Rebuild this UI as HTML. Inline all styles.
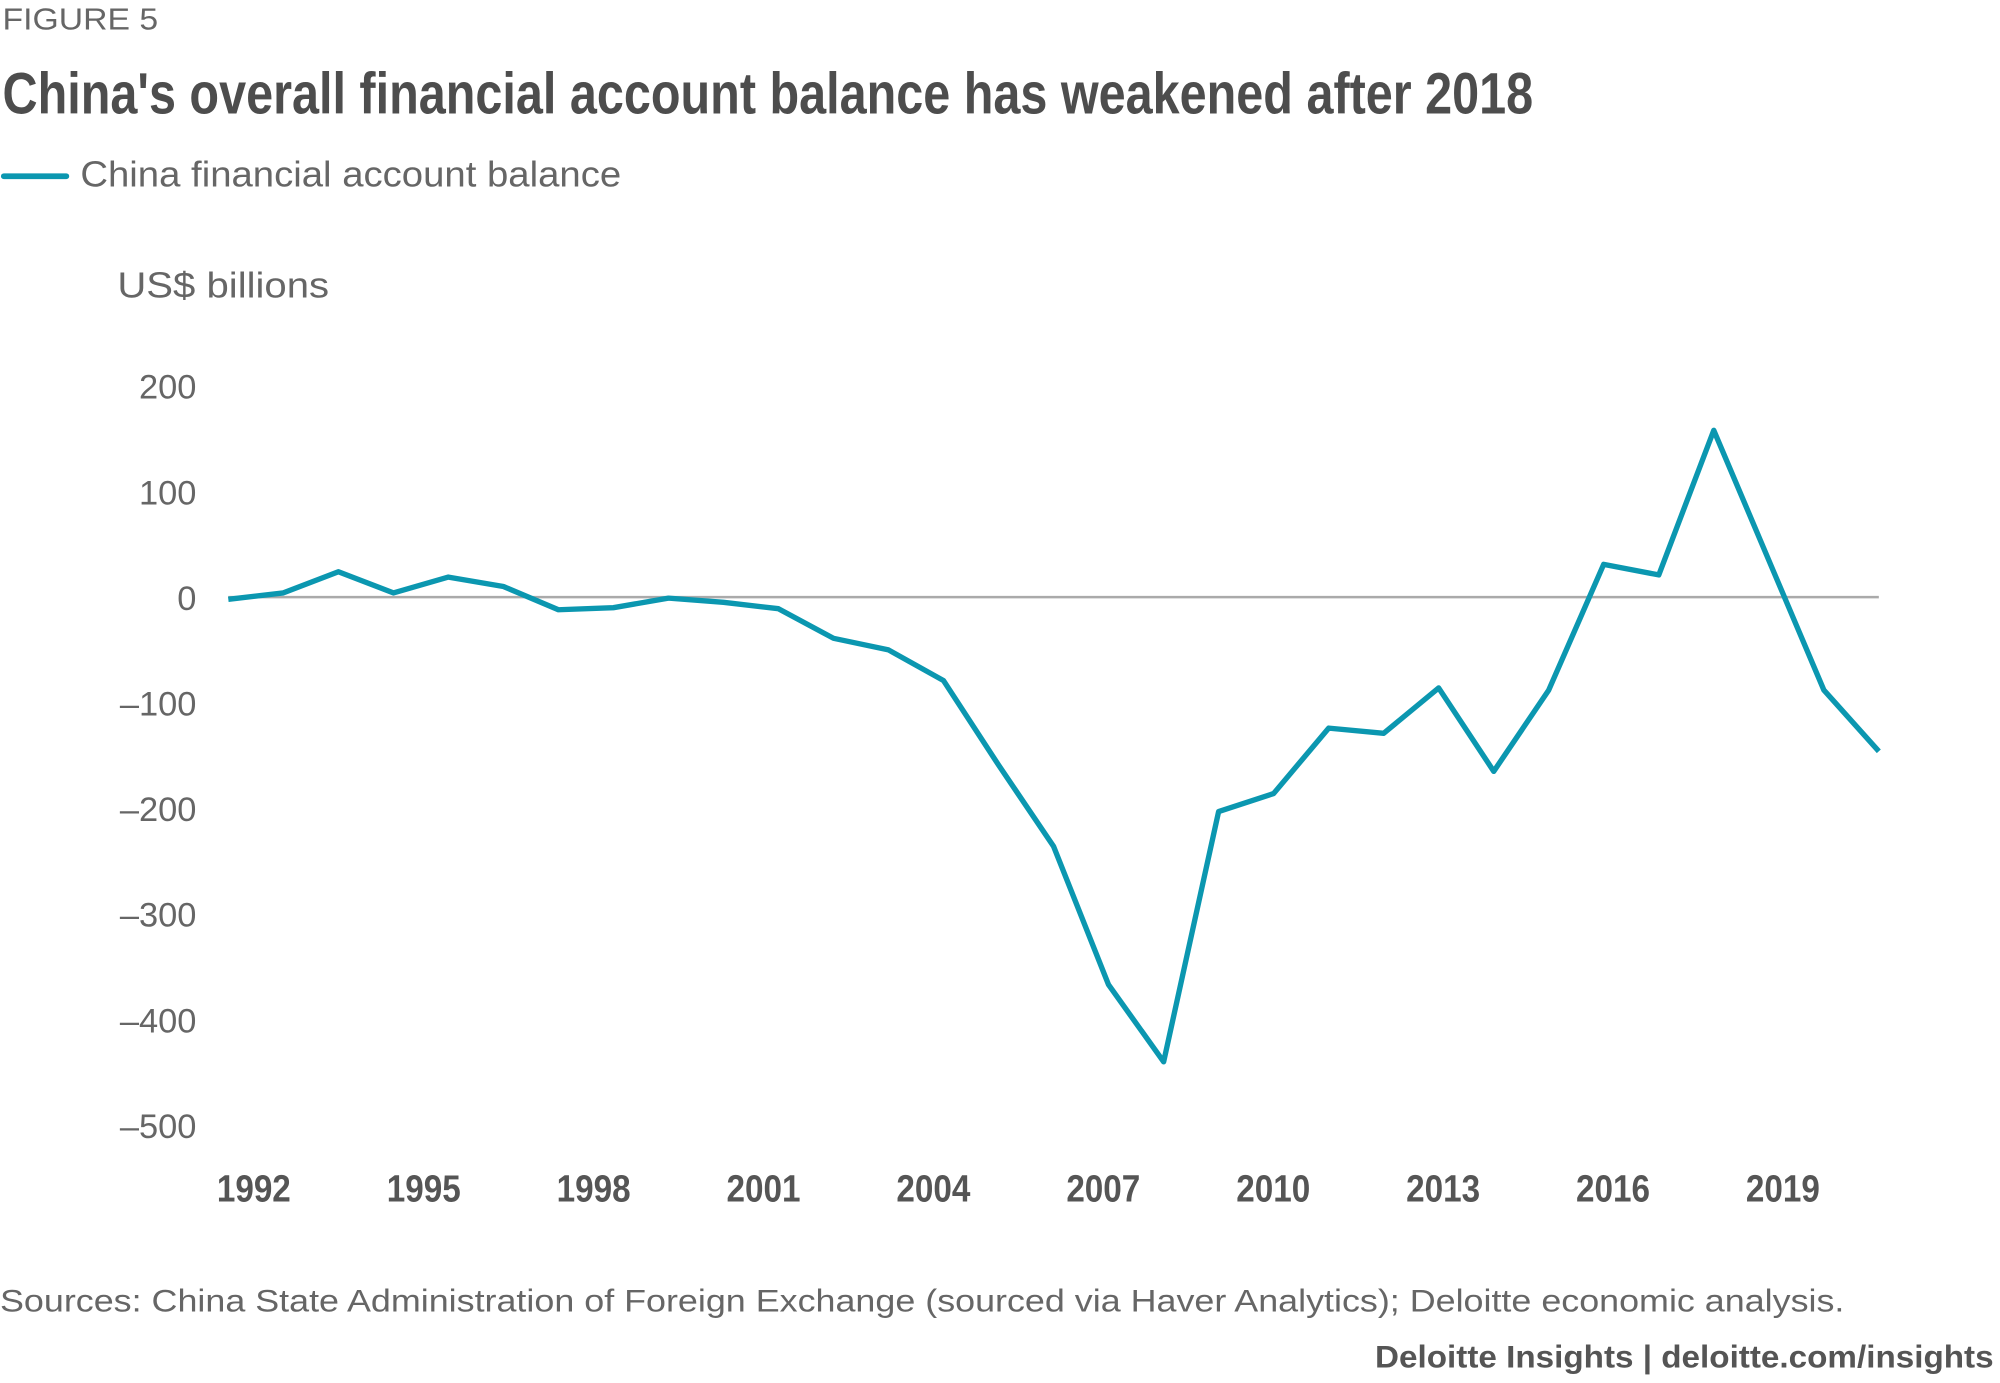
<!DOCTYPE html>
<html><head><meta charset="utf-8"><style>
html,body{margin:0;padding:0;background:#fff;}
svg{display:block;}
text{font-family:"Liberation Sans",sans-serif;}
</style></head><body>
<svg id="chart" width="2000" height="1383" viewBox="0 0 1568 1084" xmlns="http://www.w3.org/2000/svg">
<text x="2" y="23" font-size="24" fill="#666" textLength="122" lengthAdjust="spacingAndGlyphs">FIGURE 5</text>
<text x="2" y="89" font-size="46" font-weight="bold" fill="#4d4d4d" textLength="1200" lengthAdjust="spacingAndGlyphs">China's overall financial account balance has weakened after 2018</text>
<line x1="3" y1="138" x2="52" y2="138" stroke="#0b97b0" stroke-width="4.5" stroke-linecap="round"/>
<text x="63" y="146" font-size="28" fill="#666" textLength="424" lengthAdjust="spacingAndGlyphs">China financial account balance</text>
<text x="92" y="233" font-size="28" fill="#666" textLength="166" lengthAdjust="spacingAndGlyphs">US$ billions</text>
<g id="yticks"></g>
<g id="xticks"></g>
<line id="zero" stroke="#aaa" stroke-width="2"/>
<path id="series" fill="none" stroke="#0b97b0" stroke-width="4.2" stroke-linejoin="round"/>
<text x="0" y="1028" font-size="25" fill="#666" textLength="1446" lengthAdjust="spacingAndGlyphs">Sources: China State Administration of Foreign Exchange (sourced via Haver Analytics); Deloitte economic analysis.</text>
<text x="1078" y="1072" font-size="25" font-weight="bold" fill="#555" textLength="485" lengthAdjust="spacingAndGlyphs">Deloitte Insights | deloitte.com/insights</text>
</svg>
<script>
const years = [1991,1992,1993,1994,1995,1996,1997,1998,1999,2000,2001,2002,2003,2004,2005,2006,2007,2008,2009,2010,2011,2012,2013,2014,2015,2016,2017,2018,2019,2020,2021];
const values = [-2,4,24,4,19,10,-12,-10,-1,-5,-11,-39,-50,-79,-159,-236,-367,-440,-203,-186,-124,-129,-86,-165,-88,31,21,158,35,-88,-146];
const yTicks = [200,100,0,-100,-200,-300,-400,-500];
const xLabels = [1992,1995,1998,2001,2004,2007,2010,2013,2016,2019];

const NS = "http://www.w3.org/2000/svg";
function x(yr){ return 179 + (yr - years[0]) * (1473 - 179) / (years[years.length-1] - years[0]); }
function y(v){ return 468 - v * 0.828; }
function xl(yr){ return 199 + (yr - 1992) * 44.4; }

const yg = document.getElementById('yticks');
yTicks.forEach(t => {
  const el = document.createElementNS(NS, 'text');
  el.setAttribute('x', 154);
  el.setAttribute('y', y(t) + 10);
  el.setAttribute('text-anchor', 'end');
  el.setAttribute('font-size', '27');
  el.setAttribute('fill', '#666');
  
  
  el.textContent = t < 0 ? '\u2013' + Math.abs(t) : String(t);
  yg.appendChild(el);
});

const xg = document.getElementById('xticks');
xLabels.forEach(t => {
  const el = document.createElementNS(NS, 'text');
  el.setAttribute('x', xl(t));
  el.setAttribute('y', 942);
  el.setAttribute('text-anchor', 'middle');
  el.setAttribute('font-size', '30');
  el.setAttribute('font-weight', 'bold');
  el.setAttribute('fill', '#555');
  el.setAttribute('textLength', '58');
  el.setAttribute('lengthAdjust', 'spacingAndGlyphs');
  
  
  el.textContent = String(t);
  xg.appendChild(el);
});

const z = document.getElementById('zero');
z.setAttribute('x1', x(years[0]));
z.setAttribute('x2', x(years[years.length-1]));
z.setAttribute('y1', y(0));
z.setAttribute('y2', y(0));

document.getElementById('series').setAttribute('d',
  values.map((v,i) => (i ? 'L' : 'M') + x(years[i]).toFixed(1) + ',' + y(v).toFixed(1)).join(' '));
</script>
</body></html>
